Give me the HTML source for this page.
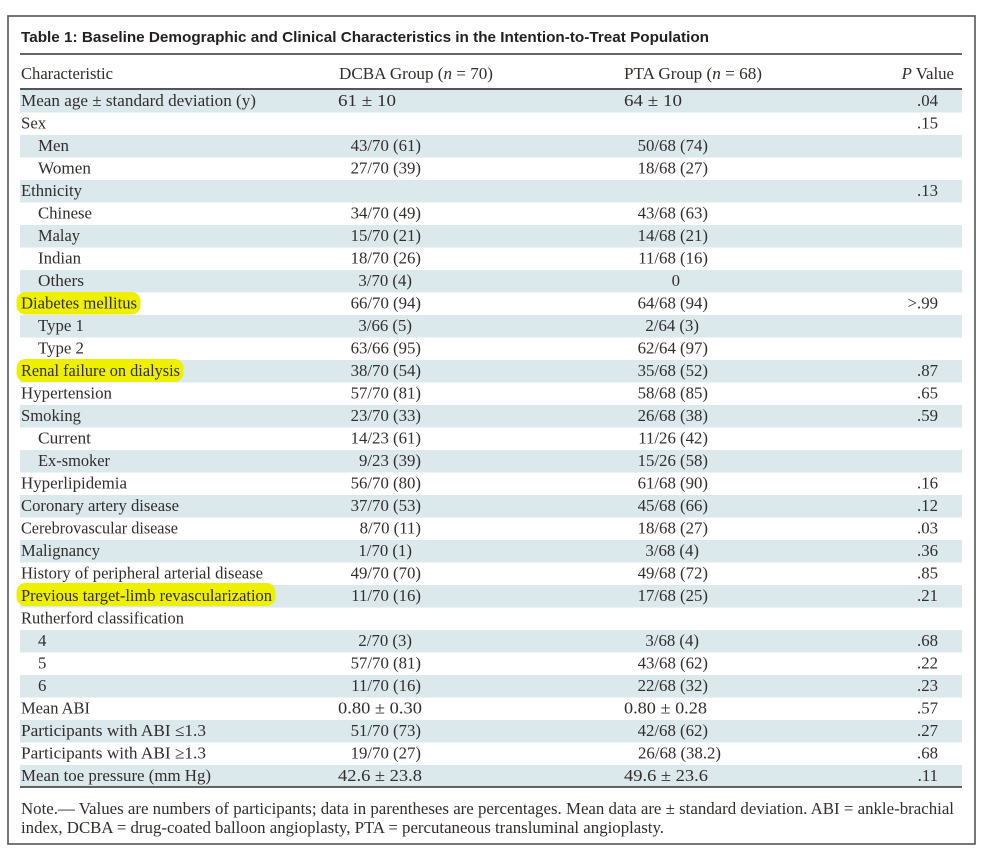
<!DOCTYPE html>
<html>
<head>
<meta charset="utf-8">
<style>
html,body{margin:0;padding:0;background:#fff;}
svg{display:block;}
text{font-family:"Liberation Serif",serif;fill:#332d2c;font-size:16.8px;}
.t{font-family:"Liberation Sans",sans-serif;font-weight:bold;fill:#231f20;font-size:15px;}
</style>
</head>
<body>
<svg width="992" height="861" viewBox="0 0 992 861" xmlns="http://www.w3.org/2000/svg">
<rect x="0" y="0" width="992" height="861" fill="#fff"/>
<rect x="8" y="16" width="967" height="828" fill="none" stroke="#555" stroke-width="1.6"/>
<text class="t" x="21" y="42" textLength="688" lengthAdjust="spacingAndGlyphs">Table 1: Baseline Demographic and Clinical Characteristics in the Intention-to-Treat Population</text>
<line x1="20" y1="54" x2="962" y2="54" stroke="#666" stroke-width="2"/>
<text x="21" y="79" textLength="92" lengthAdjust="spacingAndGlyphs">Characteristic</text>
<text x="339" y="79" textLength="154" lengthAdjust="spacingAndGlyphs">DCBA Group (<tspan font-style="italic">n</tspan> = 70)</text>
<text x="624" y="79" textLength="138" lengthAdjust="spacingAndGlyphs">PTA Group (<tspan font-style="italic">n</tspan> = 68)</text>
<text x="954" y="79" text-anchor="end"><tspan font-style="italic">P</tspan> Value</text>
<line x1="20" y1="89" x2="962" y2="89" stroke="#555" stroke-width="2"/>
<g fill="#dbe9ec">
<rect x="20" y="90" width="942" height="22.5"/>
<rect x="20" y="135" width="942" height="22.5"/>
<rect x="20" y="180" width="942" height="22.5"/>
<rect x="20" y="225" width="942" height="22.5"/>
<rect x="20" y="270" width="942" height="22.5"/>
<rect x="20" y="315" width="942" height="22.5"/>
<rect x="20" y="360" width="942" height="22.5"/>
<rect x="20" y="405" width="942" height="22.5"/>
<rect x="20" y="450" width="942" height="22.5"/>
<rect x="20" y="495" width="942" height="22.5"/>
<rect x="20" y="540" width="942" height="22.5"/>
<rect x="20" y="585" width="942" height="22.5"/>
<rect x="20" y="630" width="942" height="22.5"/>
<rect x="20" y="675" width="942" height="22.5"/>
<rect x="20" y="720" width="942" height="22.5"/>
<rect x="20" y="765" width="942" height="22"/>
</g>
<g fill="#eef000">
<rect x="16.5" y="292" width="124" height="22.5" rx="9"/>
<rect x="16.5" y="359" width="167" height="23" rx="9"/>
<rect x="16.5" y="583" width="259" height="23" rx="9"/>
</g>
<text x="21" y="106" textLength="235" lengthAdjust="spacingAndGlyphs">Mean age ± standard deviation (y)</text>
<text x="21" y="128.5">Sex</text>
<text x="38" y="151" textLength="31" lengthAdjust="spacingAndGlyphs">Men</text>
<text x="38" y="173.5" textLength="53" lengthAdjust="spacingAndGlyphs">Women</text>
<text x="21" y="196" textLength="61" lengthAdjust="spacingAndGlyphs">Ethnicity</text>
<text x="38" y="218.5" textLength="54" lengthAdjust="spacingAndGlyphs">Chinese</text>
<text x="38" y="241" textLength="42" lengthAdjust="spacingAndGlyphs">Malay</text>
<text x="38" y="263.5" textLength="43" lengthAdjust="spacingAndGlyphs">Indian</text>
<text x="38" y="286" textLength="46" lengthAdjust="spacingAndGlyphs">Others</text>
<text x="21" y="308.5" textLength="116" lengthAdjust="spacingAndGlyphs">Diabetes mellitus</text>
<text x="38" y="331">Type 1</text>
<text x="38" y="353.5">Type 2</text>
<text x="21" y="376" textLength="159" lengthAdjust="spacingAndGlyphs">Renal failure on dialysis</text>
<text x="21" y="398.5" textLength="91" lengthAdjust="spacingAndGlyphs">Hypertension</text>
<text x="21" y="421" textLength="60" lengthAdjust="spacingAndGlyphs">Smoking</text>
<text x="38" y="443.5" textLength="53" lengthAdjust="spacingAndGlyphs">Current</text>
<text x="38" y="466" textLength="72" lengthAdjust="spacingAndGlyphs">Ex-smoker</text>
<text x="21" y="488.5" textLength="106" lengthAdjust="spacingAndGlyphs">Hyperlipidemia</text>
<text x="21" y="511" textLength="158" lengthAdjust="spacingAndGlyphs">Coronary artery disease</text>
<text x="21" y="533.5" textLength="157" lengthAdjust="spacingAndGlyphs">Cerebrovascular disease</text>
<text x="21" y="556" textLength="79" lengthAdjust="spacingAndGlyphs">Malignancy</text>
<text x="21" y="578.5" textLength="242" lengthAdjust="spacingAndGlyphs">History of peripheral arterial disease</text>
<text x="21" y="601" textLength="251" lengthAdjust="spacingAndGlyphs">Previous target-limb revascularization</text>
<text x="21" y="623.5" textLength="163" lengthAdjust="spacingAndGlyphs">Rutherford classification</text>
<text x="38" y="646">4</text>
<text x="38" y="668.5">5</text>
<text x="38" y="691">6</text>
<text x="21" y="713.5" textLength="69" lengthAdjust="spacingAndGlyphs">Mean ABI</text>
<text x="21" y="736" textLength="185" lengthAdjust="spacingAndGlyphs">Participants with ABI ≤1.3</text>
<text x="21" y="758.5" textLength="185" lengthAdjust="spacingAndGlyphs">Participants with ABI ≥1.3</text>
<text x="21" y="781" textLength="190" lengthAdjust="spacingAndGlyphs">Mean toe pressure (mm Hg)</text>
<text x="338" y="106" textLength="58" lengthAdjust="spacingAndGlyphs">61 ± 10</text>
<g text-anchor="end">
<text x="421" y="151">43/70 (61)</text>
<text x="421" y="173.5">27/70 (39)</text>
<text x="421" y="218.5">34/70 (49)</text>
<text x="421" y="241">15/70 (21)</text>
<text x="421" y="263.5">18/70 (26)</text>
<text x="412" y="286">3/70 (4)</text>
<text x="421" y="308.5">66/70 (94)</text>
<text x="412" y="331">3/66 (5)</text>
<text x="421" y="353.5">63/66 (95)</text>
<text x="421" y="376">38/70 (54)</text>
<text x="421" y="398.5">57/70 (81)</text>
<text x="421" y="421">23/70 (33)</text>
<text x="421" y="443.5">14/23 (61)</text>
<text x="421" y="466">9/23 (39)</text>
<text x="421" y="488.5">56/70 (80)</text>
<text x="421" y="511">37/70 (53)</text>
<text x="421" y="533.5">8/70 (11)</text>
<text x="412" y="556">1/70 (1)</text>
<text x="421" y="578.5">49/70 (70)</text>
<text x="421" y="601">11/70 (16)</text>
<text x="412" y="646">2/70 (3)</text>
<text x="421" y="668.5">57/70 (81)</text>
<text x="421" y="691">11/70 (16)</text>
<text x="421" y="736">51/70 (73)</text>
<text x="421" y="758.5">19/70 (27)</text>
</g>
<text x="338" y="713.5" textLength="84" lengthAdjust="spacingAndGlyphs">0.80 ± 0.30</text>
<text x="338" y="781" textLength="84" lengthAdjust="spacingAndGlyphs">42.6 ± 23.8</text>
<text x="624" y="106" textLength="58" lengthAdjust="spacingAndGlyphs">64 ± 10</text>
<g text-anchor="end">
<text x="708" y="151">50/68 (74)</text>
<text x="708" y="173.5">18/68 (27)</text>
<text x="708" y="218.5">43/68 (63)</text>
<text x="708" y="241">14/68 (21)</text>
<text x="708" y="263.5">11/68 (16)</text>
<text x="680" y="286">0</text>
<text x="708" y="308.5">64/68 (94)</text>
<text x="699" y="331">2/64 (3)</text>
<text x="708" y="353.5">62/64 (97)</text>
<text x="708" y="376">35/68 (52)</text>
<text x="708" y="398.5">58/68 (85)</text>
<text x="708" y="421">26/68 (38)</text>
<text x="708" y="443.5">11/26 (42)</text>
<text x="708" y="466">15/26 (58)</text>
<text x="708" y="488.5">61/68 (90)</text>
<text x="708" y="511">45/68 (66)</text>
<text x="708" y="533.5">18/68 (27)</text>
<text x="699" y="556">3/68 (4)</text>
<text x="708" y="578.5">49/68 (72)</text>
<text x="708" y="601">17/68 (25)</text>
<text x="699" y="646">3/68 (4)</text>
<text x="708" y="668.5">43/68 (62)</text>
<text x="708" y="691">22/68 (32)</text>
<text x="708" y="736">42/68 (62)</text>
<text x="721" y="758.5">26/68 (38.2)</text>
</g>
<text x="624" y="713.5" textLength="83" lengthAdjust="spacingAndGlyphs">0.80 ± 0.28</text>
<text x="624" y="781" textLength="84" lengthAdjust="spacingAndGlyphs">49.6 ± 23.6</text>
<g text-anchor="end">
<text x="938" y="106">.04</text>
<text x="938" y="128.5">.15</text>
<text x="938" y="196">.13</text>
<text x="938" y="308.5">&gt;.99</text>
<text x="938" y="376">.87</text>
<text x="938" y="398.5">.65</text>
<text x="938" y="421">.59</text>
<text x="938" y="488.5">.16</text>
<text x="938" y="511">.12</text>
<text x="938" y="533.5">.03</text>
<text x="938" y="556">.36</text>
<text x="938" y="578.5">.85</text>
<text x="938" y="601">.21</text>
<text x="938" y="646">.68</text>
<text x="938" y="668.5">.22</text>
<text x="938" y="691">.23</text>
<text x="938" y="713.5">.57</text>
<text x="938" y="736">.27</text>
<text x="938" y="758.5">.68</text>
<text x="938" y="781">.11</text>
</g>
<line x1="20" y1="787" x2="962" y2="787" stroke="#333" stroke-width="1.6"/>
<text x="21" y="814" textLength="933" lengthAdjust="spacingAndGlyphs">Note.— Values are numbers of participants; data in parentheses are percentages. Mean data are ± standard deviation. ABI = ankle-brachial</text>
<text x="21" y="833" textLength="643" lengthAdjust="spacingAndGlyphs">index, DCBA = drug-coated balloon angioplasty, PTA = percutaneous transluminal angioplasty.</text>
</svg>
</body>
</html>
